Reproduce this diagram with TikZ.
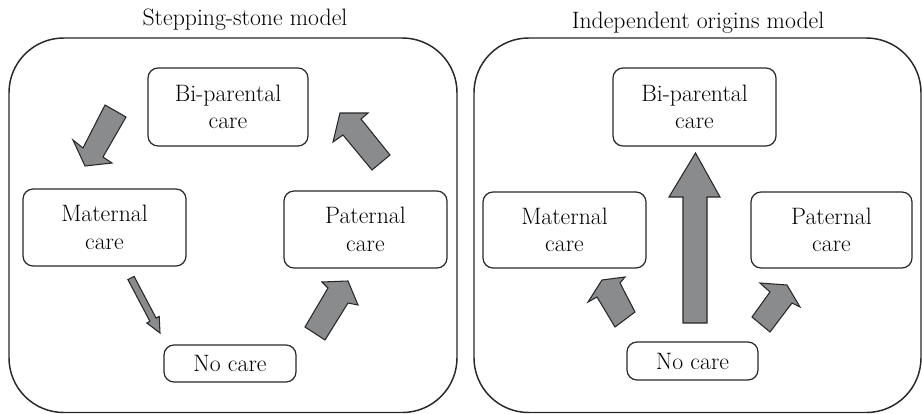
\documentclass[tikz,border=0pt]{standalone}
\definecolor{arrowgray}{RGB}{138,139,141}
\definecolor{linegray}{RGB}{40,40,40}
\begin{document}
\begin{tikzpicture}[x=0.75pt,y=-0.75pt,
  panel/.style={draw=linegray, line width=1.1pt, rounded corners=41pt},
  box/.style={draw=linegray, line width=0.9pt, rounded corners=7.5pt, align=center,
    inner sep=1pt, font=\fontsize{17.8pt}{20.6pt}\selectfont},
  title/.style={anchor=base, inner sep=0pt, font=\fontsize{17.8pt}{20.6pt}\selectfont},
  blockarrow/.style={fill=arrowgray, draw=linegray, line width=0.8pt, line join=miter}]
\useasboundingbox (0,0) rectangle (922,414);

% panels
\draw[panel] (9,38) rectangle (457,412.5);
\draw[panel] (474,38) rectangle (921,412.5);

% titles
\node[title] (t1) at (245,26) {Stepping-stone model};
\node[title] (t2) at (698,28) {Independent origins model};

% left panel boxes
\node[box, minimum width={160*0.75pt}, minimum height={78*0.75pt}] (bi1) at (228,107) {Bi-parental\\care};
\node[box, minimum width={163*0.75pt}, minimum height={77*0.75pt}] (mat1) at (104.5,227.5) {Maternal\\care};
\node[box, minimum width={163*0.75pt}, minimum height={77*0.75pt}] (pat1) at (365.5,229.5) {Paternal\\care};
\node[box, minimum width={132*0.75pt}, minimum height={37*0.75pt}] (no1) at (230,363.5) {No care};

% right panel boxes
\node[box, minimum width={163*0.75pt}, minimum height={78*0.75pt}] (bi2) at (694.5,107) {Bi-parental\\care};
\node[box, minimum width={163*0.75pt}, minimum height={76*0.75pt}] (mat2) at (564.5,230) {Maternal\\care};
\node[box, minimum width={161*0.75pt}, minimum height={76*0.75pt}] (pat2) at (831.5,230) {Paternal\\care};
\node[box, minimum width={131*0.75pt}, minimum height={38*0.75pt}] (no2) at (692.5,361) {No care};

% left panel arrows
% bi-parental -> maternal
\draw[blockarrow] (105,105) -- (126,117) -- (103,157) -- (112,163) -- (85,166) -- (73,140) -- (83,148) -- cycle;
% paternal -> bi-parental
\draw[blockarrow] (390,155) -- (361,119) -- (368,113) -- (340,113) -- (333,142) -- (343,135) -- (372,170) -- cycle;
% maternal -> no care (thin)
\draw[blockarrow] (127.9,279.6) -- (134.1,276.4) -- (156.1,318.1) -- (159.2,316.4) -- (160,333) -- (146.8,323.0) -- (149.9,321.3) -- cycle;
% no care -> paternal
\draw[blockarrow] (305,327) -- (328,288) -- (322,282) -- (348,281) -- (358,305) -- (348,303) -- (325,340) -- cycle;

% right panel arrows
% no care -> maternal
\draw[blockarrow] (635,312) -- (620,283) -- (625,277) -- (602,280) -- (588,302) -- (597,297) -- (615,327) -- cycle;
% no care -> bi-parental
\draw[blockarrow] (683,323) -- (683,197) -- (669,197) -- (695.5,153) -- (720,197) -- (707,197) -- (707,323) -- cycle;
% no care -> paternal
\draw[blockarrow] (752,317) -- (770,292) -- (760,283) -- (787,285) -- (800,307) -- (792,303) -- (770,332) -- cycle;
\end{tikzpicture}
\end{document}
